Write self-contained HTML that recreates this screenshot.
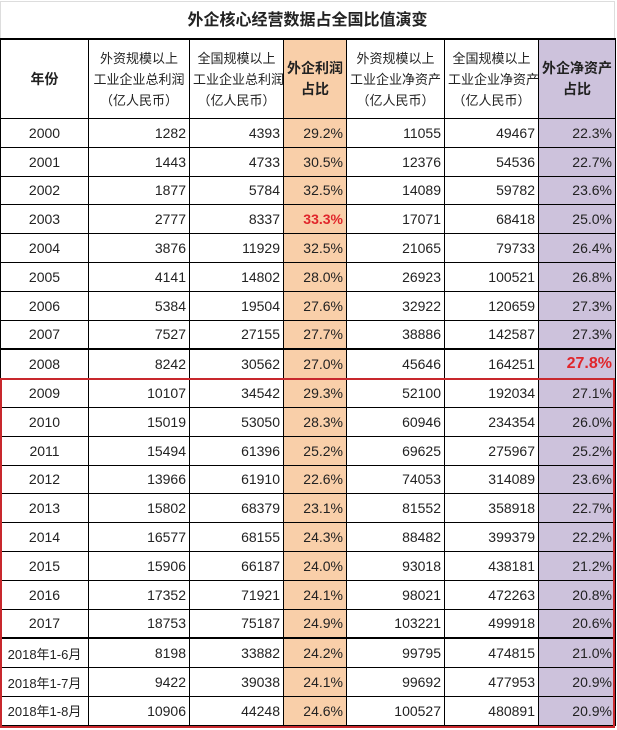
<!DOCTYPE html>
<html><head><meta charset="utf-8"><style>
body{margin:0;background:#fff;width:617px;height:730px;overflow:hidden;position:relative;font-family:"Liberation Sans","Noto Sans CJK SC",sans-serif;}
.title{position:absolute;left:0;top:1px;width:613px;height:37px;border:1px solid #ddd;border-bottom:none;text-align:center;line-height:38px;font-size:16px;font-weight:bold;color:#222;}
table{position:absolute;left:0;top:38px;border-collapse:collapse;table-layout:fixed;width:615px;}
td{border:1px solid #000;padding:0 3px;font-size:14px;color:#222;height:27.8px;text-align:right;white-space:nowrap;overflow:hidden;}
tr.h td{height:78px;text-align:center;font-size:13px;line-height:21px;border-top:2px solid #000;}
tr.h td.b{font-weight:bold;font-size:14px;}
td.y{text-align:center;}
td.y.s{font-size:13px;}
.o{background:#f9cfa9;}
.p{background:#cdc2dc;}
tr.tk td{border-top:2px solid #000;}
.r{color:#e0262b;font-weight:bold;}
.box{position:absolute;left:0;top:378px;width:611px;height:346px;border:2px solid #c8282d;pointer-events:none;}
</style></head><body>
<div class="title">外企核心经营数据占全国比值演变</div>
<table>
<colgroup><col style="width:88px"><col style="width:101px"><col style="width:94px"><col style="width:63px"><col style="width:98px"><col style="width:94px"><col style="width:77px"></colgroup>
<tr class="h"><td class="b">年份</td><td>外资规模以上<br>工业企业总利润<br>（亿人民币）</td><td>全国规模以上<br>工业企业总利润<br>（亿人民币）</td><td class="o b">外企利润<br>占比</td><td>外资规模以上<br>工业企业净资产<br>（亿人民币）</td><td>全国规模以上<br>工业企业净资产<br>（亿人民币）</td><td class="p b">外企净资产<br>占比</td></tr>
<tr><td class="y">2000</td><td>1282</td><td>4393</td><td class="o">29.2%</td><td>11055</td><td>49467</td><td class="p">22.3%</td></tr>
<tr><td class="y">2001</td><td>1443</td><td>4733</td><td class="o">30.5%</td><td>12376</td><td>54536</td><td class="p">22.7%</td></tr>
<tr><td class="y">2002</td><td>1877</td><td>5784</td><td class="o">32.5%</td><td>14089</td><td>59782</td><td class="p">23.6%</td></tr>
<tr><td class="y">2003</td><td>2777</td><td>8337</td><td class="o r">33.3%</td><td>17071</td><td>68418</td><td class="p">25.0%</td></tr>
<tr><td class="y">2004</td><td>3876</td><td>11929</td><td class="o">32.5%</td><td>21065</td><td>79733</td><td class="p">26.4%</td></tr>
<tr><td class="y">2005</td><td>4141</td><td>14802</td><td class="o">28.0%</td><td>26923</td><td>100521</td><td class="p">26.8%</td></tr>
<tr><td class="y">2006</td><td>5384</td><td>19504</td><td class="o">27.6%</td><td>32922</td><td>120659</td><td class="p">27.3%</td></tr>
<tr><td class="y">2007</td><td>7527</td><td>27155</td><td class="o">27.7%</td><td>38886</td><td>142587</td><td class="p">27.3%</td></tr>
<tr class="tk"><td class="y">2008</td><td>8242</td><td>30562</td><td class="o">27.0%</td><td>45646</td><td>164251</td><td class="p r" style="font-size:16px">27.8%</td></tr>
<tr><td class="y">2009</td><td>10107</td><td>34542</td><td class="o">29.3%</td><td>52100</td><td>192034</td><td class="p">27.1%</td></tr>
<tr><td class="y">2010</td><td>15019</td><td>53050</td><td class="o">28.3%</td><td>60946</td><td>234354</td><td class="p">26.0%</td></tr>
<tr><td class="y">2011</td><td>15494</td><td>61396</td><td class="o">25.2%</td><td>69625</td><td>275967</td><td class="p">25.2%</td></tr>
<tr><td class="y">2012</td><td>13966</td><td>61910</td><td class="o">22.6%</td><td>74053</td><td>314089</td><td class="p">23.6%</td></tr>
<tr><td class="y">2013</td><td>15802</td><td>68379</td><td class="o">23.1%</td><td>81552</td><td>358918</td><td class="p">22.7%</td></tr>
<tr><td class="y">2014</td><td>16577</td><td>68155</td><td class="o">24.3%</td><td>88482</td><td>399379</td><td class="p">22.2%</td></tr>
<tr><td class="y">2015</td><td>15906</td><td>66187</td><td class="o">24.0%</td><td>93018</td><td>438181</td><td class="p">21.2%</td></tr>
<tr><td class="y">2016</td><td>17352</td><td>71921</td><td class="o">24.1%</td><td>98021</td><td>472263</td><td class="p">20.8%</td></tr>
<tr><td class="y">2017</td><td>18753</td><td>75187</td><td class="o">24.9%</td><td>103221</td><td>499918</td><td class="p">20.6%</td></tr>
<tr class="tk"><td class="y s">2018年1-6月</td><td>8198</td><td>33882</td><td class="o">24.2%</td><td>99795</td><td>474815</td><td class="p">21.0%</td></tr>
<tr><td class="y s">2018年1-7月</td><td>9422</td><td>39038</td><td class="o">24.1%</td><td>99692</td><td>477953</td><td class="p">20.9%</td></tr>
<tr><td class="y s">2018年1-8月</td><td>10906</td><td>44248</td><td class="o">24.6%</td><td>100527</td><td>480891</td><td class="p">20.9%</td></tr>
</table>
<div class="box"></div>
</body></html>
